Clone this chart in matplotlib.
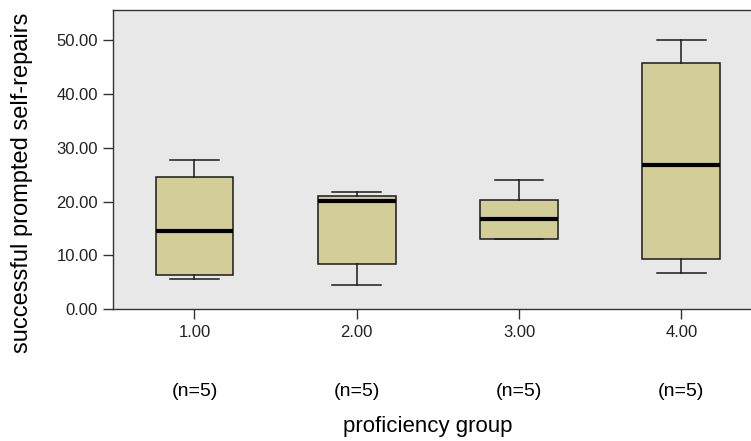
import matplotlib.pyplot as plt

# Kennwerte je Leistungsgruppe (Whisker, Quartile, Median)
groups = [1.0, 2.0, 3.0, 4.0]
tick_labels = ["1.00", "2.00", "3.00", "4.00"]
n_counts = [5, 5, 5, 5]
whisker_low = [5.6, 4.5, 13.05, 6.7]
q1 = [6.3, 8.5, 13.05, 9.3]
median = [14.5, 20.05, 16.8, 26.7]
q3 = [24.5, 21.1, 20.3, 45.8]
whisker_high = [27.8, 21.8, 24.0, 50.0]

narrow = ["Liberation Sans Narrow", "Liberation Sans", "DejaVu Sans"]
plt.rcParams["font.family"] = ["Liberation Sans", "DejaVu Sans"]

fig = plt.figure(figsize=(7.51, 4.41), dpi=100)
ax = fig.add_axes([0.1509, 0.2986, 0.8645, 0.6787])
ax.set_facecolor("#e8e8e8")

stats = []
for i in range(len(groups)):
    stats.append({
        "whislo": whisker_low[i], "q1": q1[i], "med": median[i],
        "q3": q3[i], "whishi": whisker_high[i], "fliers": [],
    })

ax.bxp(stats, positions=groups, widths=0.48, patch_artist=True,
       showfliers=False, capwidths=0.30,
       boxprops=dict(facecolor="#d3cd98", edgecolor="#1a1a1a", linewidth=1.1),
       medianprops=dict(color="black", linewidth=3),
       whiskerprops=dict(color="#1a1a1a", linewidth=1.1),
       capprops=dict(color="#1a1a1a", linewidth=1.1))

ax.set_xlim(0.5, 4.5)
ax.set_ylim(0, 55.56)
ax.set_yticks([0, 10, 20, 30, 40, 50])
ax.set_yticklabels(["%.2f" % v for v in [0, 10, 20, 30, 40, 50]])
ax.set_xticks(groups)
ax.set_xticklabels(tick_labels)
ax.tick_params(direction="out", length=7, width=1, color="#333333",
               labelsize=12, labelcolor="#222222", pad=4)

for side in ["top", "right", "bottom", "left"]:
    ax.spines[side].set_color("#333333")
    ax.spines[side].set_linewidth(1)

# Fallzahlen unter den Gruppen
for x, n in zip(groups, n_counts):
    ax.text(x, -15.2, "(n=%d)" % n, ha="center", va="center",
            fontsize=14, family=narrow, clip_on=False)

fig.text(0.569, 0.032, "proficiency group", ha="center", va="center",
         fontsize=16, family=narrow)
fig.text(0.029, 0.585, "successful prompted self-repairs", rotation=90,
         ha="center", va="center", fontsize=17, family=narrow)

fig.savefig("out.png", dpi=100)
